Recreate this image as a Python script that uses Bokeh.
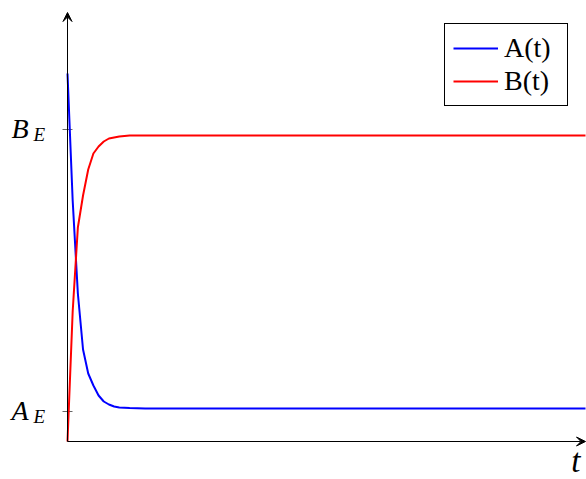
from bokeh.plotting import figure
from bokeh.models import Range1d, Arrow, VeeHead, Label, Legend, LegendItem
from bokeh.embed import file_html
from bokeh.resources import INLINE

# ---- data ----
t_vals = [0.0, 0.1, 0.2, 0.3, 0.4, 0.5, 0.6, 0.7, 0.8, 0.9, 1.0, 1.2, 1.5, 10.0]
a_vals = [3.68, 2.41, 1.48, 0.92, 0.68, 0.56, 0.46, 0.40, 0.37, 0.35, 0.34, 0.335, 0.33, 0.33]
b_vals = [0.0, 1.30, 2.14, 2.46, 2.72, 2.88, 2.95, 3.00, 3.03, 3.04, 3.05, 3.06, 3.06, 3.06]
tick_vals = [0.30, 3.12]
tick_names = ["A", "B"]
series_names = ["A(t)", "B(t)"]
t_max = 10.0
y_max = 4.29

# ---- layout constants ----
PX = 51.8   # pixels per t unit
PY = 100.0  # pixels per y unit
W, H = 586, 479
OX, OY = 67, 38  # origin offset from left / bottom, pixels
SERIF = "Liberation Serif"

p = figure(width=W, height=H, output_backend="svg", toolbar_location=None,
           x_axis_type=None, y_axis_type=None,
           x_range=Range1d(-OX / PX, (W - OX) / PX),
           y_range=Range1d(-OY / PY, (H - OY) / PY),
           min_border=0)
p.outline_line_color = None
p.background_fill_color = "white"
p.border_fill_color = "white"

# axes with arrows
p.add_layout(Arrow(end=VeeHead(size=9, fill_color="black", line_color="black", line_width=1),
                   x_start=0, y_start=0, x_end=t_max, y_end=0,
                   line_color="black", line_width=1))
p.add_layout(Arrow(end=VeeHead(size=9, fill_color="black", line_color="black", line_width=1),
                   x_start=0, y_start=0, x_end=0, y_end=y_max,
                   line_color="black", line_width=1))

# ticks
p.segment(x0=[-5 / PX] * len(tick_vals), y0=tick_vals,
          x1=[5 / PX] * len(tick_vals), y1=tick_vals,
          line_color="#666666", line_width=1)

# curves
ra = p.line(t_vals, a_vals, line_color="#0000ff", line_width=2)
rb = p.line(t_vals, b_vals, line_color="#ff0000", line_width=2)

# tick labels
for name, v in zip(tick_names, tick_vals):
    p.add_layout(Label(x=11, x_units="screen", y=v, y_offset=1, text=name,
                       text_font=SERIF, text_font_style="italic", text_color="black",
                       text_font_size="28px", text_baseline="alphabetic"))
    p.add_layout(Label(x=33, x_units="screen", y=v, y_offset=-5, text="E",
                       text_font=SERIF, text_font_style="italic", text_color="black",
                       text_font_size="19px", text_baseline="alphabetic"))

# t label
p.add_layout(Label(x=W - 6, x_units="screen", y=19, y_units="screen", text="t",
                   text_font=SERIF, text_font_style="italic", text_color="black",
                   text_font_size="33px", text_align="right",
                   text_baseline="alphabetic"))

legend = Legend(items=[LegendItem(label=series_names[0], renderers=[ra]),
                       LegendItem(label=series_names[1], renderers=[rb])],
                location=(444, 373),
                label_text_font=SERIF, label_text_font_size="28px",
                label_text_color="black",
                glyph_width=45, glyph_height=30, label_standoff=6,
                label_width=55, padding=8, spacing=1, margin=0,
                border_line_color="black", border_line_width=1, border_line_alpha=1.0,
                background_fill_color="white", background_fill_alpha=1.0)
p.add_layout(legend)

open("out.html", "w").write(file_html(p, INLINE))
